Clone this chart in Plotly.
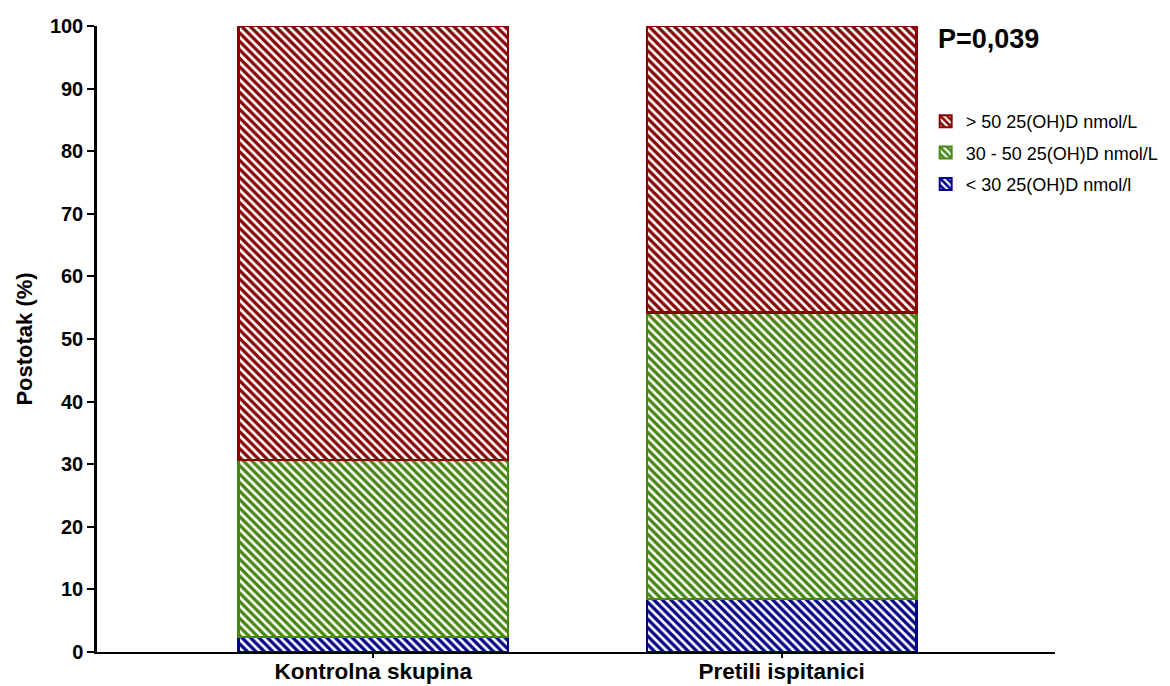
import plotly.graph_objects as go

categories = ["Kontrolna skupina", "Pretili ispitanici"]
below30 = [2.4, 8.5]
mid30_50 = [28.3, 45.7]
above50 = [69.3, 45.8]
series_names = ["< 30 25(OH)D nmol/l", "30 - 50 25(OH)D nmol/L", "> 50 25(OH)D nmol/L"]
colors = ["rgb(5,5,135)", "rgb(70,135,20)", "rgb(135,5,5)"]
yticks = [0, 10, 20, 30, 40, 50, 60, 70, 80, 90, 100]

xpos = list(range(len(categories)))
fig = go.Figure()
for i, (name, vals, col) in enumerate(zip(series_names, [below30, mid30_50, above50], colors)):
    fig.add_trace(go.Bar(
        x=xpos, y=vals, name=name, width=0.66, legendgroup="g%d" % i, legendrank=3 - i,
        marker=dict(color="white", line=dict(color=col, width=2.5),
                    pattern=dict(shape="\\", fgcolor=col, bgcolor="white", fgopacity=1,
                                 size=6, solidity=0.55)),
    ))

fig.update_layout(
    barmode="stack",
    width=1162, height=678,
    margin=dict(l=89, r=115, t=18, b=34, autoexpand=False),
    plot_bgcolor="white", paper_bgcolor="white",
    font=dict(family="Liberation Sans, Arial, sans-serif", color="black"),
    showlegend=True,
    legend=dict(x=0.865, y=0.877, xanchor="left", yanchor="top", traceorder="grouped",
                font=dict(size=18), bgcolor="rgba(0,0,0,0)", itemsizing="constant",
                tracegroupgap=5),
    xaxis=dict(range=[-0.676, 1.669], tickvals=xpos, ticktext=["<b>%s</b>" % c for c in categories],
               tickfont=dict(size=22.5), showline=True, linecolor="black", linewidth=2,
               ticks="outside", ticklen=4, tickwidth=2, tickcolor="black", showgrid=False,
               zeroline=False, automargin=False, ticklabelstandoff=-6),
    yaxis=dict(range=[0, 100], tickvals=yticks, ticktext=["<b>%d</b>" % v for v in yticks],
               tickfont=dict(size=20), showline=True, linecolor="black", linewidth=2.5,
               ticks="outside", ticklen=7, tickwidth=2, tickcolor="black", showgrid=False,
               zeroline=False, automargin=False,
               title=dict(text="<b>Postotak (%)</b>", font=dict(size=22), standoff=12)),
    annotations=[dict(text="<b>P=0,039</b>", x=0.876, y=0.98, xref="paper", yref="paper",
                      xanchor="left", yanchor="middle", showarrow=False, font=dict(size=27))],
)
fig.write_html("out.html")
